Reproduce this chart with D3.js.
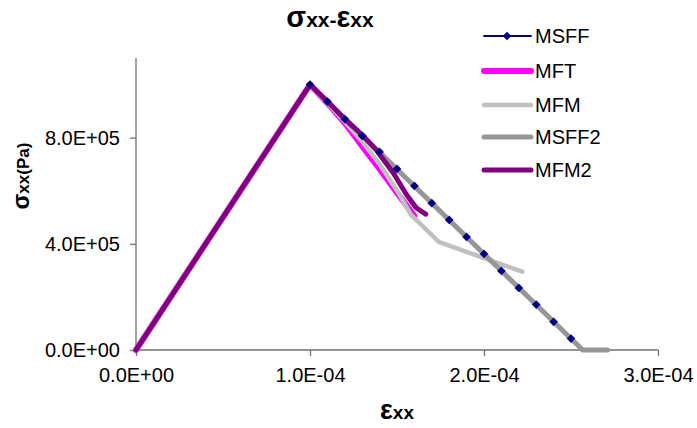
<!DOCTYPE html>
<html>
<head>
<meta charset="utf-8">
<script src="https://cdn.jsdelivr.net/npm/d3@7"></script>
<style>
body { margin: 0; background: #fff; }
svg { font-family: "Liberation Sans", Arial, sans-serif; }
.axis path, .axis line { stroke: #707070; stroke-width: 1.3; }
.axis text { fill: #000; font-size: 20px; }
</style>
</head>
<body>
<div id="chart"></div>
<script>
"use strict";

// strain (exx) / stress (sxx, Pa)
var msff_x = [0, 1.0e-4, 1.1e-4, 1.2e-4, 1.3e-4, 1.4e-4, 1.5e-4, 1.6e-4, 1.7e-4,
              1.8e-4, 1.9e-4, 2.0e-4, 2.1e-4, 2.2e-4, 2.3e-4, 2.4e-4, 2.5e-4, 2.567e-4];
var msff_y = [0, 1.0e6, 9.36e5, 8.70e5, 8.07e5, 7.46e5, 6.82e5, 6.18e5, 5.53e5,
              4.90e5, 4.26e5, 3.62e5, 2.98e5, 2.34e5, 1.71e5, 1.06e5, 4.3e4, 0];

var mft_x = [0, 1.0e-4, 1.1e-4, 1.2e-4, 1.3e-4, 1.4e-4, 1.5e-4, 1.6e-4];
var mft_y = [0, 1.0e6, 9.3e5, 8.55e5, 7.68e5, 6.82e5, 5.92e5, 5.05e5];

var mfm_x = [0, 1.0e-4, 1.1e-4, 1.2e-4, 1.3e-4, 1.4e-4, 1.5e-4, 1.58e-4, 1.74e-4, 2.22e-4];
var mfm_y = [0, 1.0e6, 9.3e5, 8.6e5, 7.85e5, 7.0e5, 6.0e5, 5.1e5, 4.07e5, 2.95e5];

var msff2_x = [0, 1.0e-4, 2.567e-4, 2.71e-4];
var msff2_y = [0, 1.0e6, 0, 0];

var mfm2_x = [0, 1.0e-4, 1.1e-4, 1.2e-4, 1.3e-4, 1.38e-4, 1.48e-4, 1.556e-4, 1.61e-4, 1.665e-4];
var mfm2_y = [0, 1.0e6, 9.36e5, 8.7e5, 8.1e5, 7.54e5, 6.66e5, 5.84e5, 5.36e5, 5.12e5];

var series_names = ["MSFF", "MFT", "MFM", "MSFF2", "MFM2"];
var series_colors = ["#000080", "#ff00ff", "#c0c0c0", "#969696", "#800080"];
var series_widths = [1.8, 6, 4.5, 5, 5];

var x_ticks = [0, 1e-4, 2e-4, 3e-4];
var x_tick_labels = ["0.0E+00", "1.0E-04", "2.0E-04", "3.0E-04"];
var y_ticks = [0, 4e5, 8e5];
var y_tick_labels = ["0.0E+00", "4.0E+05", "8.0E+05"];

function to_points(xs, ys) {
    return xs.map(function(x, i) { return {"x": x, "y": ys[i]}; });
}

var series = [
    to_points(msff_x, msff_y),
    to_points(mft_x, mft_y),
    to_points(mfm_x, mfm_y),
    to_points(msff2_x, msff2_y),
    to_points(mfm2_x, mfm2_y)
];

var width = 697, height = 428;
var svg = d3.select("#chart").append("svg")
    .attr("width", width)
    .attr("height", height);

var x = d3.scaleLinear().domain([0, 3e-4]).range([136, 658]);
var y = d3.scaleLinear().domain([0, 1.1e6]).range([350, 58]);

// axes
var x_axis = d3.axisBottom(x)
    .tickValues(x_ticks)
    .tickSize(6)
    .tickPadding(12)
    .tickFormat(function(d, i) { return x_tick_labels[i]; });
svg.append("g")
    .attr("class", "axis")
    .attr("transform", "translate(0," + y(0) + ")")
    .call(x_axis)
    .call(function(g) { g.select(".domain").attr("d", "M136,0H658"); });

var y_axis = d3.axisLeft(y)
    .tickValues(y_ticks)
    .tickSize(6)
    .tickPadding(10)
    .tickFormat(function(d, i) { return y_tick_labels[i]; });
svg.append("g")
    .attr("class", "axis")
    .attr("transform", "translate(" + x(0) + ",0)")
    .call(y_axis)
    .call(function(g) { g.select(".domain").attr("d", "M0,58V350"); });

// lines (drawn in series order, markers on top)
var line = d3.line()
    .x(function(d) { return x(d.x); })
    .y(function(d) { return y(d.y); });

series.forEach(function(pts, i) {
    svg.append("path")
        .attr("d", line(pts))
        .attr("fill", "none")
        .attr("stroke", series_colors[i])
        .attr("stroke-width", series_widths[i])
        .attr("stroke-linejoin", "round")
        .attr("stroke-linecap", "round");
});

// MSFF diamond markers (inner points only)
var diamond = d3.symbol().type(d3.symbolSquare).size(38);
svg.selectAll("path.marker")
    .data(series[0].slice(1, series[0].length - 1))
    .enter()
    .append("path")
    .attr("class", "marker")
    .attr("d", diamond)
    .attr("fill", "#000080")
    .attr("transform", function(d) {
        return "translate(" + x(d.x) + "," + y(d.y) + ") rotate(45)";
    });

// title
var title = svg.append("text")
    .attr("x", 330)
    .attr("y", 27)
    .attr("text-anchor", "middle")
    .attr("font-weight", "bold");
title.append("tspan").attr("font-size", "29px").text("σ");
title.append("tspan").attr("font-size", "21px").text("xx-");
title.append("tspan").attr("font-size", "29px").text("ε");
title.append("tspan").attr("font-size", "21px").text("xx");

// y label
var ylab = svg.append("text")
    .attr("transform", "translate(29,176) rotate(-90)")
    .attr("text-anchor", "middle")
    .attr("font-weight", "bold");
ylab.append("tspan").attr("font-size", "23px").text("σ");
ylab.append("tspan").attr("font-size", "17px").text("xx(Pa)");

// x label
var xlab = svg.append("text")
    .attr("x", 397)
    .attr("y", 419)
    .attr("text-anchor", "middle")
    .attr("font-weight", "bold");
xlab.append("tspan").attr("font-size", "27px").text("ε");
xlab.append("tspan").attr("font-size", "19px").text("xx");

// legend
var legend_y = [36, 71, 105, 137, 170];
series_names.forEach(function(name, i) {
    var g = svg.append("g").attr("transform", "translate(0," + legend_y[i] + ")");
    g.append("line")
        .attr("x1", 484).attr("x2", 531)
        .attr("stroke", series_colors[i])
        .attr("stroke-width", series_widths[i])
        .attr("stroke-linecap", "round");
    if (i === 0) {
        g.append("path")
            .attr("d", diamond)
            .attr("fill", "#000080")
            .attr("transform", "translate(507,0) rotate(45)");
    }
    g.append("text")
        .attr("x", 535)
        .attr("y", 7)
        .attr("font-size", "20px")
        .text(name);
});
</script>
</body>
</html>
